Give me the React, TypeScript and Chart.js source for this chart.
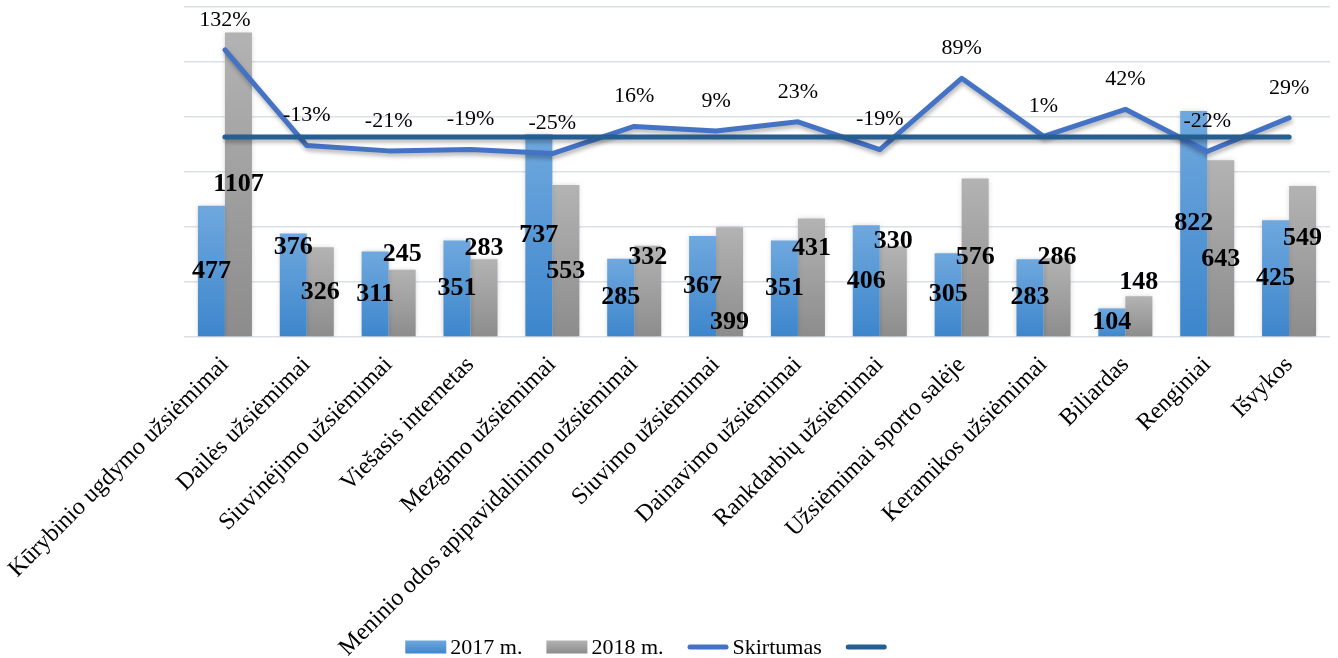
import React, { useEffect, useRef } from 'react';
import { Chart, registerables } from 'chart.js';

Chart.register(...registerables);

const categories = [
  'Kūrybinio ugdymo užsiėmimai',
  'Dailės užsiėmimai',
  'Siuvinėjimo užsiėmimai',
  'Viešasis internetas',
  'Mezgimo užsiėmimai',
  'Meninio odos apipavidalinimo užsiėmimai',
  'Siuvimo užsiėmimai',
  'Dainavimo užsiėmimai',
  'Rankdarbių užsiėmimai',
  'Užsiėmimai sporto salėje',
  'Keramikos užsiėmimai',
  'Biliardas',
  'Renginiai',
  'Išvykos',
];
const values2017 = [477, 376, 311, 351, 737, 285, 367, 351, 406, 305, 283, 104, 822, 425];
const values2018 = [1107, 326, 245, 283, 553, 332, 399, 431, 330, 576, 286, 148, 643, 549];
const differencePct = [132, -13, -21, -19, -25, 16, 9, 23, -19, 89, 1, 42, -22, 29];
const zeroLine = [0, 0, 0, 0, 0, 0, 0, 0, 0, 0, 0, 0, 0, 0];
const seriesLabels = ['2017 m.', '2018 m.', 'Skirtumas', ''];

// how the two value labels of a category are arranged so they do not overlap
const labelPairLayout = ['apart', '17up', '18up', '18up', '18down', '18up', '18down', '18up', '18up', 'apart', '18up', '18up', '18down', '18up'];

const FONT = '"Liberation Serif", "Times New Roman", serif';
const BLUE_TOP = '#6fa8de';
const BLUE_BOTTOM = '#3d86cc';
const GREY_TOP = '#b3b3b3';
const GREY_BOTTOM = '#8c8c8c';
const LINE_BLUE = '#4472c4';
const LINE_DARK = '#255e91';

function barGradient(top: string, bottom: string) {
  return (c: any) => {
    const chart = c.chart;
    if (!chart.chartArea || c.type !== 'data') return bottom;
    const ys = chart.scales.y;
    const yTop = ys.getPixelForValue(c.raw);
    const yBot = ys.getPixelForValue(0);
    const g = chart.ctx.createLinearGradient(0, yTop, 0, yBot);
    g.addColorStop(0, top);
    g.addColorStop(1, bottom);
    return g;
  };
}

const shadowPlugin = {
  id: 'shadows',
  beforeDatasetDraw(chart: any, args: any) {
    const ctx = chart.ctx;
    ctx.save();
    if (args.index < 2) {
      ctx.shadowColor = 'rgba(0,0,0,0.18)';
      ctx.shadowBlur = 5;
      ctx.shadowOffsetX = 0;
      ctx.shadowOffsetY = 0;
    } else {
      ctx.shadowColor = 'rgba(0,0,0,0.30)';
      ctx.shadowBlur = 4;
      ctx.shadowOffsetX = 1;
      ctx.shadowOffsetY = 3;
    }
  },
  afterDatasetDraw(chart: any) {
    chart.ctx.restore();
  },
};

const labelPlugin = {
  id: 'valueLabels',
  afterDatasetsDraw(chart: any) {
    const ctx = chart.ctx;
    const m17 = chart.getDatasetMeta(0);
    const m18 = chart.getDatasetMeta(1);
    const mPct = chart.getDatasetMeta(2);
    ctx.save();
    ctx.fillStyle = '#000';
    ctx.textAlign = 'center';
    ctx.textBaseline = 'middle';
    ctx.font = `bold 26px ${FONT}`;
    categories.forEach((_, i) => {
      const b17 = m17.data[i].getProps(['x', 'y', 'base'], true);
      const b18 = m18.data[i].getProps(['x', 'y', 'base'], true);
      const c17 = (b17.y + b17.base) / 2;
      const c18 = (b18.y + b18.base) / 2;
      let y17 = c17;
      let y18 = c18;
      const mode = labelPairLayout[i];
      if (mode === '18up') y18 = c17 - 40;
      else if (mode === '18down') y18 = c17 + 36;
      else if (mode === '17up') y17 = c18 - 45;
      ctx.fillText(String(values2017[i]), b17.x, y17);
      ctx.fillText(String(values2018[i]), b18.x, y18);
    });
    ctx.font = `22px ${FONT}`;
    mPct.data.forEach((pt: any, i: number) => {
      const p = pt.getProps(['x', 'y'], true);
      ctx.fillText(`${differencePct[i]}%`, p.x, p.y - 30);
    });
    ctx.restore();
  },
};

const legendPlugin = {
  id: 'customLegend',
  afterDraw(chart: any) {
    const ctx = chart.ctx;
    const cy = 647;
    const boxW = 41;
    const gap = 4;
    const itemGap = 24;
    ctx.save();
    ctx.font = `22px ${FONT}`;
    ctx.textBaseline = 'middle';
    ctx.textAlign = 'left';
    const widths = seriesLabels.map((t) => boxW + (t ? gap + ctx.measureText(t).width : 0));
    const total = widths.reduce((a, b) => a + b, 0) + itemGap * (widths.length - 1);
    let x = 646 - total / 2;
    seriesLabels.forEach((t, i) => {
      if (i < 2) {
        const g = ctx.createLinearGradient(0, cy - 6.5, 0, cy + 6.5);
        g.addColorStop(0, i === 0 ? BLUE_TOP : GREY_TOP);
        g.addColorStop(1, i === 0 ? BLUE_BOTTOM : GREY_BOTTOM);
        ctx.fillStyle = g;
        ctx.fillRect(x, cy - 6.5, boxW, 13);
      } else {
        ctx.strokeStyle = i === 2 ? LINE_BLUE : LINE_DARK;
        ctx.lineWidth = 5;
        ctx.lineCap = 'round';
        ctx.beginPath();
        ctx.moveTo(x + 2.5, cy);
        ctx.lineTo(x + boxW - 2.5, cy);
        ctx.stroke();
      }
      if (t) {
        ctx.fillStyle = '#000';
        ctx.fillText(t, x + boxW + gap, cy + 1);
      }
      x += widths[i] + itemGap;
    });
    ctx.restore();
  },
};

export default function App() {
  const ref = useRef<HTMLCanvasElement | null>(null);

  useEffect(() => {
    document.body.style.margin = '0';
    const canvas = ref.current;
    if (!canvas) return;
    Chart.defaults.font.family = FONT;
    const chart = new Chart(canvas, {
      type: 'bar',
      data: {
        labels: categories,
        datasets: [
          {
            type: 'bar',
            label: seriesLabels[0],
            data: values2017,
            backgroundColor: barGradient(BLUE_TOP, BLUE_BOTTOM),
            borderWidth: 0,
            yAxisID: 'y',
            order: 2,
            barPercentage: 1,
            categoryPercentage: 0.66,
          },
          {
            type: 'bar',
            label: seriesLabels[1],
            data: values2018,
            backgroundColor: barGradient(GREY_TOP, GREY_BOTTOM),
            borderWidth: 0,
            yAxisID: 'y',
            order: 2,
            barPercentage: 1,
            categoryPercentage: 0.66,
          },
          {
            type: 'line',
            label: seriesLabels[2],
            data: differencePct,
            borderColor: LINE_BLUE,
            backgroundColor: LINE_BLUE,
            borderWidth: 5,
            pointRadius: 0,
            borderJoinStyle: 'round',
            borderCapStyle: 'round',
            tension: 0,
            yAxisID: 'y1',
            order: 1,
          },
          {
            type: 'line',
            label: seriesLabels[3],
            data: zeroLine,
            borderColor: LINE_DARK,
            backgroundColor: LINE_DARK,
            borderWidth: 5,
            pointRadius: 0,
            borderCapStyle: 'round',
            tension: 0,
            yAxisID: 'y1',
            order: 0,
          },
        ] as any,
      },
      options: {
        responsive: false,
        animation: false,
        layout: { padding: { left: 184, right: 8, top: 7, bottom: 0 } },
        plugins: {
          legend: { display: false },
          tooltip: { enabled: false },
        },
        scales: {
          x: {
            grid: { display: false, drawTicks: false },
            border: { display: false },
            ticks: {
              autoSkip: false,
              minRotation: 45,
              maxRotation: 45,
              padding: 14,
              color: '#000',
              font: { family: FONT, size: 24 },
            },
            afterFit: (s: any) => {
              s.height = 321;
              s.paddingLeft = 0;
              s.paddingRight = 0;
            },
          },
          y: {
            position: 'left',
            min: 0,
            max: 1200,
            ticks: { display: false, stepSize: 200 },
            grid: { color: '#dce0e5', lineWidth: 1.5, drawTicks: false },
            border: { display: false },
            afterFit: (s: any) => {
              s.width = 0;
            },
          },
          y1: {
            position: 'right',
            display: false,
            min: -303,
            max: 197,
            grid: { display: false },
          },
        },
      } as any,
      plugins: [shadowPlugin, labelPlugin, legendPlugin],
    });
    return () => chart.destroy();
  }, []);

  return (
    <div style={{ width: 1338, height: 658 }}>
      <canvas ref={ref} width={1338} height={658} style={{ display: 'block' }} />
    </div>
  );
}
